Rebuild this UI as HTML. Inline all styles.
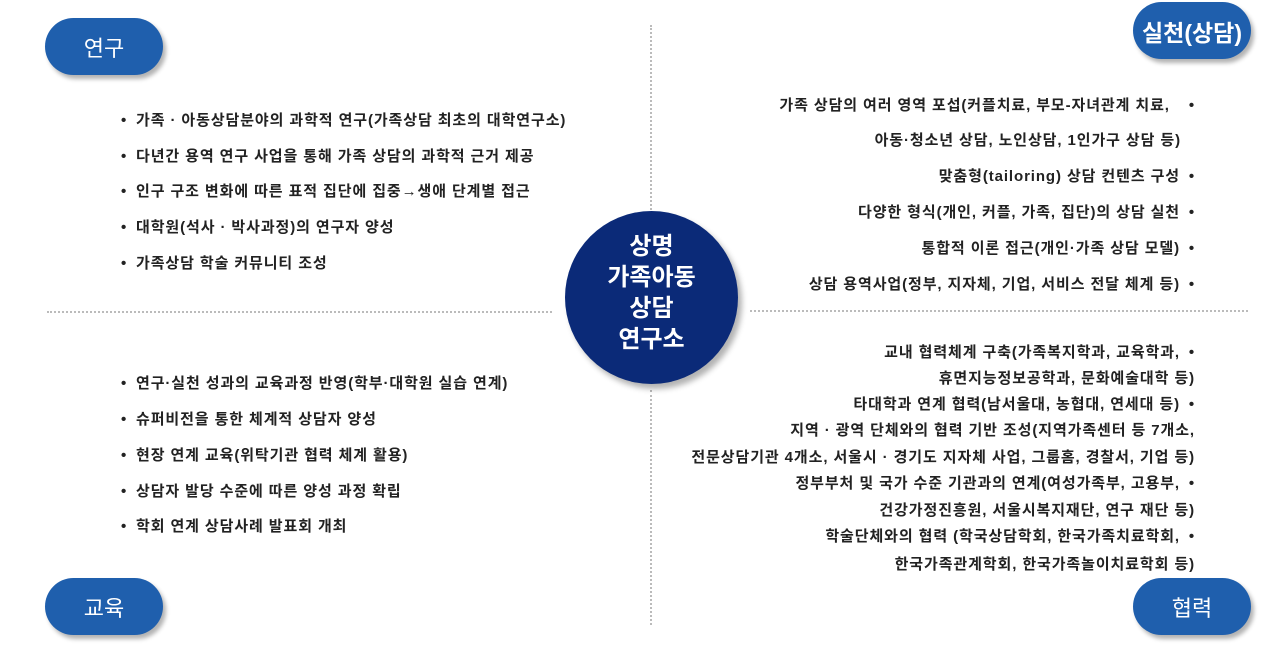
<!DOCTYPE html>
<html><head><meta charset="utf-8"><style>
body{margin:0;width:1280px;height:646px;background:#fff;position:relative;overflow:hidden;font-family:"Liberation Sans","Noto Sans CJK KR",sans-serif;}
.pill{position:absolute;width:118px;height:57px;border-radius:29px;background:#1f5fad;color:#fff;font-size:22px;display:flex;align-items:center;justify-content:center;box-shadow:3px 4px 4px rgba(0,0,0,0.3);}
.circle{position:absolute;left:565px;top:211px;width:173px;height:173px;border-radius:50%;background:#0b2a78;color:#fff;font-weight:bold;font-size:24px;line-height:31px;text-align:center;box-shadow:4px 5px 6px rgba(0,0,0,0.3);}
.circle div{position:absolute;left:0;right:0;top:20px;}
.t{position:absolute;font-size:15px;font-weight:bold;color:#222;white-space:nowrap;letter-spacing:0.9px;line-height:20px;margin-top:2px;}
.l{left:121px}
.l::before{content:"•";display:inline-block;width:15px;}
.r{right:99px;text-align:right}
.r2{right:85px;text-align:right}
.b::after{content:"•";display:inline-block;width:15px;text-align:right;}
.hl{position:absolute;height:0;border-top:2px dotted #bbb;}
.vl{position:absolute;width:0;border-left:2px dotted #bbb;}
</style></head><body>
<div class="vl" style="left:650px;top:25px;height:185px"></div>
<div class="vl" style="left:650px;top:390px;height:235px"></div>
<div class="hl" style="left:47px;top:311px;width:505px"></div>
<div class="hl" style="left:750px;top:310px;width:498px"></div>

<div class="pill" style="left:45px;top:18px">연구</div>
<div class="pill" style="left:1133px;top:2px;font-size:23px;font-weight:bold">실천(상담)</div>
<div class="pill" style="left:45px;top:578px">교육</div>
<div class="pill" style="left:1133px;top:578px">협력</div>
<div class="circle"><div>상명<br>가족아동<br>상담<br>연구소</div></div>

<div class="t l" style="top:109px">가족 · 아동상담분야의 과학적 연구(가족상담 최초의 대학연구소)</div>
<div class="t l" style="top:145px">다년간 용역 연구 사업을 통해 가족 상담의 과학적 근거 제공</div>
<div class="t l" style="top:180px">인구 구조 변화에 따른 표적 집단에 집중→생애 단계별 접근</div>
<div class="t l" style="top:216px">대학원(석사 · 박사과정)의 연구자 양성</div>
<div class="t l" style="top:252px">가족상담 학술 커뮤니티 조성</div>

<div class="t l" style="top:372px">연구·실천 성과의 교육과정 반영(학부·대학원 실습 연계)</div>
<div class="t l" style="top:408px">슈퍼비전을 통한 체계적 상담자 양성</div>
<div class="t l" style="top:444px">현장 연계 교육(위탁기관 협력 체계 활용)</div>
<div class="t l" style="top:480px">상담자 발당 수준에 따른 양성 과정 확립</div>
<div class="t l" style="top:515px">학회 연계 상담사례 발표회 개최</div>

<div class="t r2 b" style="top:94px">가족 상담의 여러 영역 포섭(커플치료, 부모-자녀관계 치료,&nbsp;&nbsp;</div>
<div class="t r" style="top:129px">아동·청소년 상담, 노인상담, 1인가구 상담 등)</div>
<div class="t r2 b" style="top:165px">맞춤형(tailoring) 상담 컨텐츠 구성</div>
<div class="t r2 b" style="top:201px">다양한 형식(개인, 커플, 가족, 집단)의 상담 실천</div>
<div class="t r2 b" style="top:237px">통합적 이론 접근(개인·가족 상담 모델)</div>
<div class="t r2 b" style="top:273px">상담 용역사업(정부, 지자체, 기업, 서비스 전달 체계 등)</div>

<div class="t r2 b" style="top:341px">교내 협력체계 구축(가족복지학과, 교육학과,</div>
<div class="t" style="right:85px;top:367px">휴면지능정보공학과, 문화예술대학 등)</div>
<div class="t r2 b" style="top:393px">타대학과 연계 협력(남서울대, 농협대, 연세대 등)</div>
<div class="t" style="right:85px;top:419px">지역 · 광역 단체와의 협력 기반 조성(지역가족센터 등 7개소,</div>
<div class="t" style="right:85px;top:446px">전문상담기관 4개소, 서울시 · 경기도 지자체 사업, 그룹홈, 경찰서, 기업 등)</div>
<div class="t r2 b" style="top:472px">정부부처 및 국가 수준 기관과의 연계(여성가족부, 고용부,</div>
<div class="t" style="right:85px;top:499px">건강가정진흥원, 서울시복지재단, 연구 재단 등)</div>
<div class="t r2 b" style="top:525px">학술단체와의 협력 (학국상담학회, 한국가족치료학회,</div>
<div class="t" style="right:85px;top:553px">한국가족관계학회, 한국가족놀이치료학회 등)</div>
</body></html>
